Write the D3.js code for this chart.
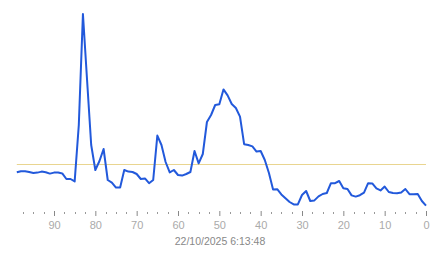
<!DOCTYPE html>
<html>
<head>
<meta charset="utf-8">
<script src="https://cdn.jsdelivr.net/npm/d3@7"></script>
<style>
  body { margin: 0; background: #fff; }
  svg { display: block; font-family: Arial, "Liberation Sans", sans-serif; }
</style>
</head>
<body>
<div id="chart"></div>
<script>
// seconds ago (left = oldest) and the sampled values
var ages = d3.range(99, -1, -1);
var values = [
  19.9, 20.4, 20.4, 20, 19.5, 19.7, 20.2, 19.9, 19.2, 19.7,
  19.7, 19.3, 16.5, 16.5, 15.3, 43.5, 99, 66, 33.5, 21,
  25.5, 31.5, 16, 14.7, 12.2, 12.2, 21, 20.2, 20, 19,
  16.5, 16.8, 14.4, 16, 38.2, 33.5, 25, 19.8, 21, 18.5,
  18.2, 19, 20, 30.5, 24.3, 29, 45, 48.5, 53.5, 53.9,
  61.3, 58.3, 54, 52, 47.7, 33.9, 33.5, 32.8, 30.2, 30.5,
  26, 19.5, 11.3, 11.4, 8.8, 6.9, 5, 3.8, 3.8, 8.5,
  10.5, 5.5, 5.8, 7.8, 9, 9.5, 14.4, 14.4, 15.5, 11.9,
  11.5, 8.3, 7.7, 8.4, 9.7, 14.4, 14.3, 11.8, 10.8, 12.7,
  10, 9.5, 9.4, 9.8, 11.5, 8.9, 8.9, 9, 5.5, 3.2
];
var majorTicks = [90, 80, 70, 60, 50, 40, 30, 20, 10, 0];
var minorTicks = d3.range(97.5, 0, -2.5).filter(d => d % 10 != 0);
var refValue = 24;
var timestamp = "22/10/2025 6:13:48";

var svgWidth = 443;
var svgHeight = 258;

var svg = d3.select("#chart").append("svg")
  .attr("width", svgWidth)
  .attr("height", svgHeight);

// scales
var xScale = d3.scaleLinear()
  .domain([99, 0])
  .range([16.8, 426]);

var yScale = d3.scaleLinear()
  .domain([0, 100])
  .range([212, 12]);

// reference line
svg.append("line")
  .attr("x1", xScale(99))
  .attr("x2", xScale(0))
  .attr("y1", Math.round(yScale(refValue)) + 0.5)
  .attr("y2", Math.round(yScale(refValue)) + 0.5)
  .attr("stroke", "#e9d590")
  .attr("stroke-width", 1);

// data line
var line = d3.line()
  .x((d, i) => xScale(ages[i]))
  .y(d => yScale(d));

svg.append("path")
  .datum(values)
  .attr("d", line)
  .attr("fill", "none")
  .attr("stroke", "#2259db")
  .attr("stroke-width", 2)
  .attr("stroke-linejoin", "round");

// x axis, major ticks with labels
var xAxis = d3.axisBottom(xScale)
  .tickValues(majorTicks)
  .tickSize(5)
  .tickPadding(5);

var axisG = svg.append("g")
  .attr("transform", "translate(0, 211)")
  .call(xAxis);

axisG.select(".domain").remove();
axisG.selectAll(".tick line").attr("stroke", "#888");
axisG.selectAll(".tick text")
  .attr("fill", "#aaa")
  .style("font-size", "11px")
  .style("font-family", "Arial, 'Liberation Sans', sans-serif");

// minor dots
svg.selectAll(".minor")
  .data(minorTicks)
  .enter()
  .append("rect")
  .classed("minor", true)
  .attr("x", d => Math.round(xScale(d)))
  .attr("y", 212)
  .attr("width", 1)
  .attr("height", 2)
  .attr("fill", "#999");

// timestamp
svg.append("text")
  .attr("x", 220)
  .attr("y", 245)
  .attr("text-anchor", "middle")
  .attr("fill", "#888")
  .style("font-size", "10.5px")
  .text(timestamp);
</script>
</body>
</html>
